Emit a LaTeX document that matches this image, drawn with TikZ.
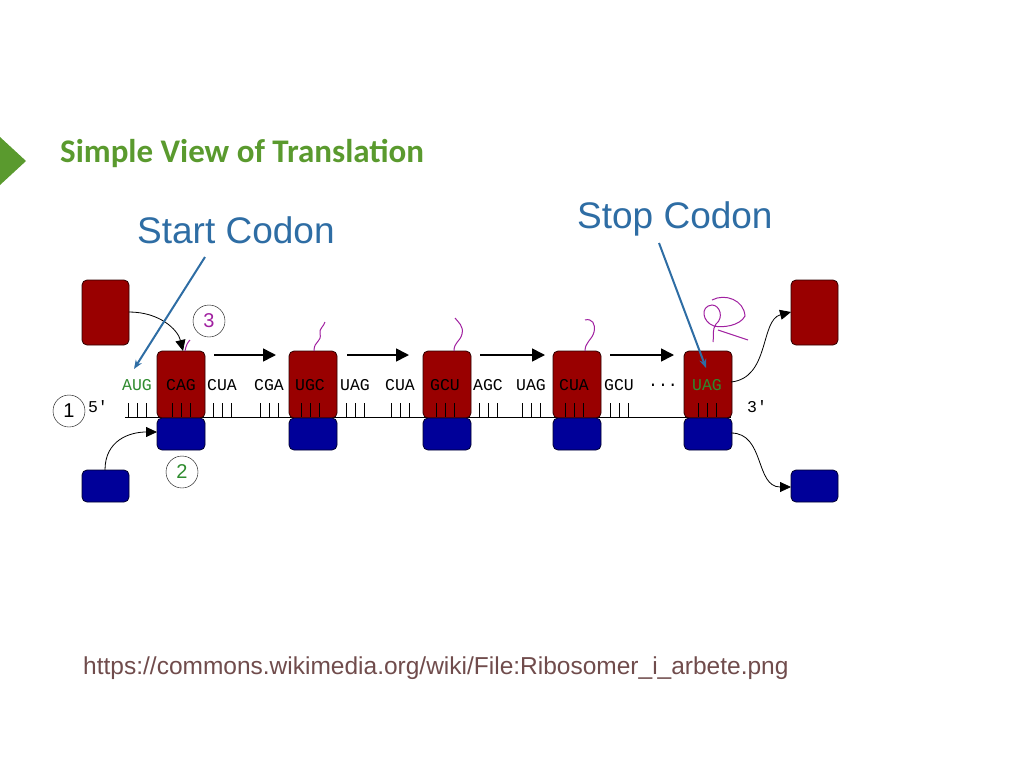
\documentclass[tikz,border=0pt]{standalone}
\usepackage{fontspec}
\setmainfont{Liberation Sans}
\newfontfamily\calfont{Carlito}
\newfontfamily\monofont{Liberation Mono}
\usetikzlibrary{arrows.meta}
\definecolor{ribred}{HTML}{990000}
\definecolor{ribblue}{HTML}{000099}
\definecolor{titlegreen}{HTML}{5A9A2E}
\definecolor{callblue}{HTML}{2E6DA4}
\definecolor{codgreen}{HTML}{2E8B2E}
\definecolor{squig}{HTML}{A020A0}
\tikzset{
  redbox/.style={draw=black!70!ribred, fill=ribred, rounded corners=5pt, line width=0.8pt},
  bluebox/.style={draw=black!70!ribblue, fill=ribblue, rounded corners=5pt, line width=0.8pt},
  codon/.style={font=\monofont\fontsize{16.5}{16.5}\selectfont, inner sep=0pt, anchor=center},
  step arrow/.style={line width=1.6pt, -{Triangle[length=13pt,width=13pt]}},
  curvearrow/.style={line width=0.8pt, -{Triangle[length=11pt,width=10pt]}},
  callout/.style={draw=callblue, line width=2pt, -{Stealth[length=9pt,width=7pt]}},
  numcirc/.style={draw, circle, minimum size=32pt, inner sep=0pt, font=\fontsize{20}{20}\selectfont},
  squiggle/.style={draw=squig, line width=1pt},
}
\begin{document}
\begin{tikzpicture}[x=1pt,y=-1pt]
\useasboundingbox (0,0) rectangle (1024,768);
\fill[titlegreen] (0,137) -- (26,161) -- (0,185) -- cycle;
\node[anchor=west, inner sep=0pt, text=titlegreen, font=\calfont\bfseries\fontsize{33}{33}\selectfont] (title) at (60,153) {Simple View of Translation};
\node[anchor=west, inner sep=0pt, text=callblue, font=\fontsize{37}{37}\selectfont] (start) at (137,230) {Start Codon};
\node[anchor=west, inner sep=0pt, text=callblue, font=\fontsize{37}{37}\selectfont] (stop) at (577,219) {Stop Codon};
\node[anchor=west, inner sep=0pt, text=black!65!red!40!gray, font=\fontsize{24.5}{24.5}\selectfont] (url) at (83,668) {https://commons.wikimedia.org/wiki/File:Ribosomer\_i\_arbete.png};

% mRNA line
\draw[line width=0.8pt] (125,417) -- (731,417);
% ribosomes
\foreach \i/\x in {a/157,b/289,c/423,d/553,e/684}{
  \draw[redbox] (\x,351) rectangle (\x+48,418);
  \draw[bluebox] (\x,418) rectangle (\x+48,450);
  \coordinate (r\i) at (\x,351);
}
% ticks
\foreach \c in {137,181,222,269,310,355,400,445,488,531,574,619,707}{
  \foreach \d in {-9,0,9}{ \draw[line width=0.9pt] (\c+\d,403) -- (\c+\d,417); }
}
% free subunits
\draw[redbox] (82,280) rectangle (129,345); \coordinate (tlr) at (129,312);
\draw[bluebox] (82,470) rectangle (129,502); \coordinate (blb) at (105,470);
\draw[redbox] (791,280) rectangle (838,345); \coordinate (trr) at (791,312);
\draw[bluebox] (791,470) rectangle (838,502); \coordinate (brb) at (791,487);
% codons
\node[codon, text=codgreen] (c1) at (137,385) {AUG};
\node[codon] (c2) at (181,385) {CAG};
\node[codon] (c3) at (222,385) {CUA};
\node[codon] (c4) at (269,385) {CGA};
\node[codon] (c5) at (310,385) {UGC};
\node[codon] (c6) at (355,385) {UAG};
\node[codon] (c7) at (400,385) {CUA};
\node[codon] (c8) at (445,385) {GCU};
\node[codon] (c9) at (488,385) {AGC};
\node[codon] (c10) at (531,385) {UAG};
\node[codon] (c11) at (574,385) {CUA};
\node[codon] (c12) at (619,385) {GCU};
\node[codon] (c13) at (663,385) {...};
\node[codon, text=codgreen] (c14) at (707,385) {UAG};
\node[codon] (p5) at (98,407) {5'};
\node[codon] (p3) at (757,407) {3'};
% circles
\node[numcirc] (n1) at (69,411) {1};
\node[numcirc, text=codgreen] (n2) at (182,472) {2};
\node[numcirc, text=squig] (n3) at (209,321) {3};
% step arrows
\draw[step arrow] (214,355) -- (276,355);
\draw[step arrow] (347,355) -- (409,355);
\draw[step arrow] (480,355) -- (545,355);
\draw[step arrow] (610,355) -- (674,355);
% curved arrows
\draw[curvearrow] (tlr) .. controls (160,312) and (178,330) .. (183,351);
\draw[curvearrow] (blb) .. controls (105,440) and (130,432) .. (157,432);
\draw[curvearrow] (731,382) .. controls (770,378) and (760,320) .. (trr);
\draw[curvearrow] (731,433) .. controls (765,433) and (755,487) .. (brb);
% squiggles
\draw[squiggle] (185,351) .. controls (186,345) and (188,342) .. (190,340);
\draw[squiggle] (314,351) .. controls (314,340) and (322,343) .. (320,333) .. controls (319,329) and (324,326) .. (325,322);
\draw[squiggle] (454,351) .. controls (454,342) and (460,342) .. (462,334) .. controls (464,326) and (458,322) .. (455,318);
\draw[squiggle] (585,351) .. controls (585,342) and (592,340) .. (594,332) .. controls (596,324) and (592,318) .. (585,320);
\draw[squiggle] (713,342) .. controls (714,334) and (712,330) .. (716,324) .. controls (724,318) and (720,305) .. (712,305) .. controls (700,306) and (702,322) .. (714,326) .. controls (722,328) and (740,326) .. (745,316) .. controls (744,300) and (725,293) .. (712,300);
\draw[squiggle] (718,330) -- (748,340);
% callouts
\coordinate (s0) at (205,257); \coordinate (s1) at (134,369);
\coordinate (t0) at (659,243); \coordinate (t1) at (706,368);
\draw[callout] (s0) -- (s1);
\draw[callout] (t0) -- (t1);
\end{tikzpicture}
\end{document}
